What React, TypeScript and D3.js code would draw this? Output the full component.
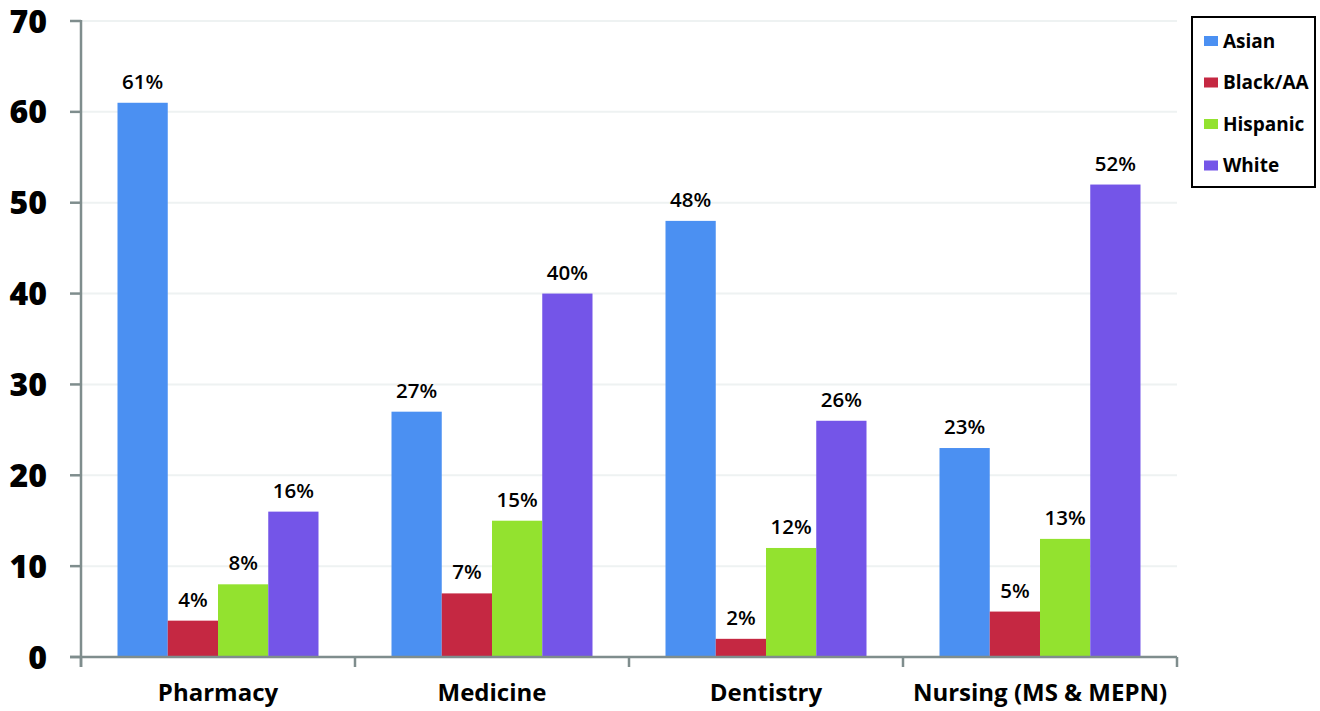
import React from "react";
import * as d3 from "d3";

const categories = ["Pharmacy", "Medicine", "Dentistry", "Nursing (MS & MEPN)"];
const seriesNames = ["Asian", "Black/AA", "Hispanic", "White"];
const asian = [61, 27, 48, 23];
const blackAA = [4, 7, 2, 5];
const hispanic = [8, 15, 12, 13];
const white = [16, 40, 26, 52];
const yTicks = [0, 10, 20, 30, 40, 50, 60, 70];
const colors = ["#4b90f2", "#c52842", "#93e22f", "#7455e8"];

const seriesValues = [asian, blackAA, hispanic, white];

const W = 1320;
const H = 711;
const left = 81;
const right = 1177;
const top = 21;
const bottom = 657;
const font = "'Open Sans', Lato, sans-serif";

export default function App() {
  const x = d3.scaleBand<string>().domain(categories).range([left, right]).paddingInner(0).paddingOuter(0);
  const groupW = 201;
  const xs = d3
    .scaleBand<string>()
    .domain(seriesNames)
    .range([(x.bandwidth() - groupW) / 2, (x.bandwidth() + groupW) / 2])
    .padding(0);
  const y = d3.scaleLinear().domain([0, 70]).range([bottom, top]);
  const axisColor = "#7f8d8d";
  const boundaries = d3.range(categories.length + 1).map((i) => left + i * x.bandwidth());

  return (
    <svg
      width={W}
      height={H}
      viewBox={`0 0 ${W} ${H}`}
      style={{ position: "absolute", left: 0, top: 0, background: "#fff" }}
    >
      {/* gridlines */}
      {yTicks.slice(1).map((t) => (
        <line key={"g" + t} x1={left} x2={right} y1={y(t)} y2={y(t)} stroke="#eef2f2" strokeWidth={2} />
      ))}
      {/* bars */}
      {categories.map((c, ci) => (
        <g key={c} transform={`translate(${x(c)},0)`}>
          {seriesNames.map((s, si) => {
            const v = seriesValues[si][ci];
            const bx = xs(s)!;
            return (
              <g key={s}>
                <rect x={bx} y={y(v)} width={xs.bandwidth()} height={bottom - y(v)} fill={colors[si]} />
                <text
                  x={bx + xs.bandwidth() / 2}
                  y={y(v) - 14}
                  textAnchor="middle"
                  fontFamily={font}
                  fontWeight={600}
                  fontSize={20.5}
                  fill="#000"
                >
                  {v}%
                </text>
              </g>
            );
          })}
        </g>
      ))}
      {/* y axis */}
      <line x1={left} x2={left} y1={top - 1} y2={bottom + 10} stroke={axisColor} strokeWidth={2.5} />
      {yTicks.map((t) => (
        <g key={"t" + t}>
          <line x1={left - 11} x2={left} y1={y(t)} y2={y(t)} stroke={axisColor} strokeWidth={2.5} />
          <text
            x={47}
            y={y(t)}
            dy="0.36em"
            textAnchor="end"
            fontFamily={font}
            fontWeight={800}
            fontSize={32}
            fill="#000"
          >
            {t}
          </text>
        </g>
      ))}
      {/* x axis */}
      <line x1={left - 11} x2={right} y1={bottom} y2={bottom} stroke={axisColor} strokeWidth={2.5} />
      {boundaries.map((bx, i) => (
        <line key={"xt" + i} x1={bx} x2={bx} y1={bottom} y2={bottom + 10} stroke={axisColor} strokeWidth={2.5} />
      ))}
      {categories.map((c) => (
        <text
          key={"c" + c}
          x={x(c)! + x.bandwidth() / 2}
          y={701}
          textAnchor="middle"
          fontFamily={font}
          fontWeight={700}
          fontSize={24}
          fill="#000"
        >
          {c}
        </text>
      ))}
      {/* legend */}
      <rect x={1192} y={17} width={123} height={170} fill="#fff" stroke="#000" strokeWidth={2} />
      {seriesNames.map((s, i) => {
        const cy = 41 + i * 41.5;
        return (
          <g key={"l" + s}>
            <rect x={1204} y={cy - 5} width={14} height={10} fill={colors[i]} />
            <text
              x={1223}
              y={cy}
              dy="0.35em"
              fontFamily={font}
              fontWeight={700}
              fontSize={19}
              fill="#000"
            >
              {s}
            </text>
          </g>
        );
      })}
    </svg>
  );
}
